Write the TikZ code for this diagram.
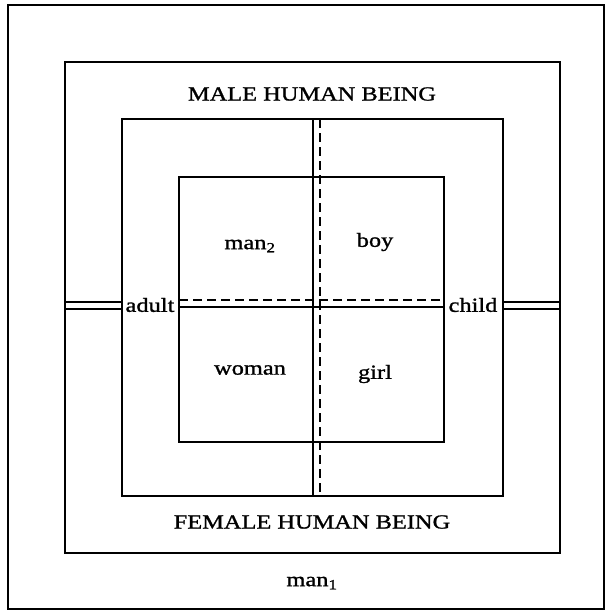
\documentclass[tikz,border=0pt]{standalone}
\usepackage{fontspec}
\setmainfont{Liberation Serif}[FakeStretch=1.22,FakeBold=1.2]
\begin{document}
\begin{tikzpicture}[x=1pt,y=-1pt,
  frame/.style={line width=2.8pt},
  thin/.style={line width=2.4pt},
  dashline/.style={line width=2.4pt,dash pattern=on 9pt off 5pt},
  lbl/.style={inner sep=0pt,font=\fontsize{20}{24}\selectfont}]
\useasboundingbox (0,0) rectangle (606,611);
% outer frame
\draw[line width=2.2pt] (8,5) rectangle (604,609);
% man1 box
\draw[frame] (65,62) rectangle (560,553);
% human being box
\draw[frame] (122,119) rectangle (503,496);
% inner box
\draw[frame] (179,177) rectangle (444,442);
% vertical lines
\draw[thin] (313,119) -- (313,496);
\draw[dashline] (320,119) -- (320,496);
% horizontal lines inside
\draw[thin] (179,307) -- (444,307);
\draw[dashline] (179,300) -- (444,300);
% double lines at sides
\draw[thin] (65,302) -- (122,302);
\draw[thin] (65,309) -- (122,309);
\draw[thin] (503,302) -- (560,302);
\draw[thin] (503,309) -- (560,309);
% labels
\node[lbl] (male) at (312,94) {MALE HUMAN BEING};
\node[lbl] (female) at (312,522) {FEMALE HUMAN BEING};
\node[lbl] (man1) at (312,583) {man\textsubscript{1}};
\node[lbl] (man2) at (250,246) {man\textsubscript{2}};
\node[lbl] (boy) at (375,242) {boy};
\node[lbl] (woman) at (250,370) {woman};
\node[lbl] (girl) at (375,374) {girl};
\node[lbl] (adult) at (150,305) {adult};
\node[lbl] (child) at (473,305) {child};
\end{tikzpicture}
\end{document}
